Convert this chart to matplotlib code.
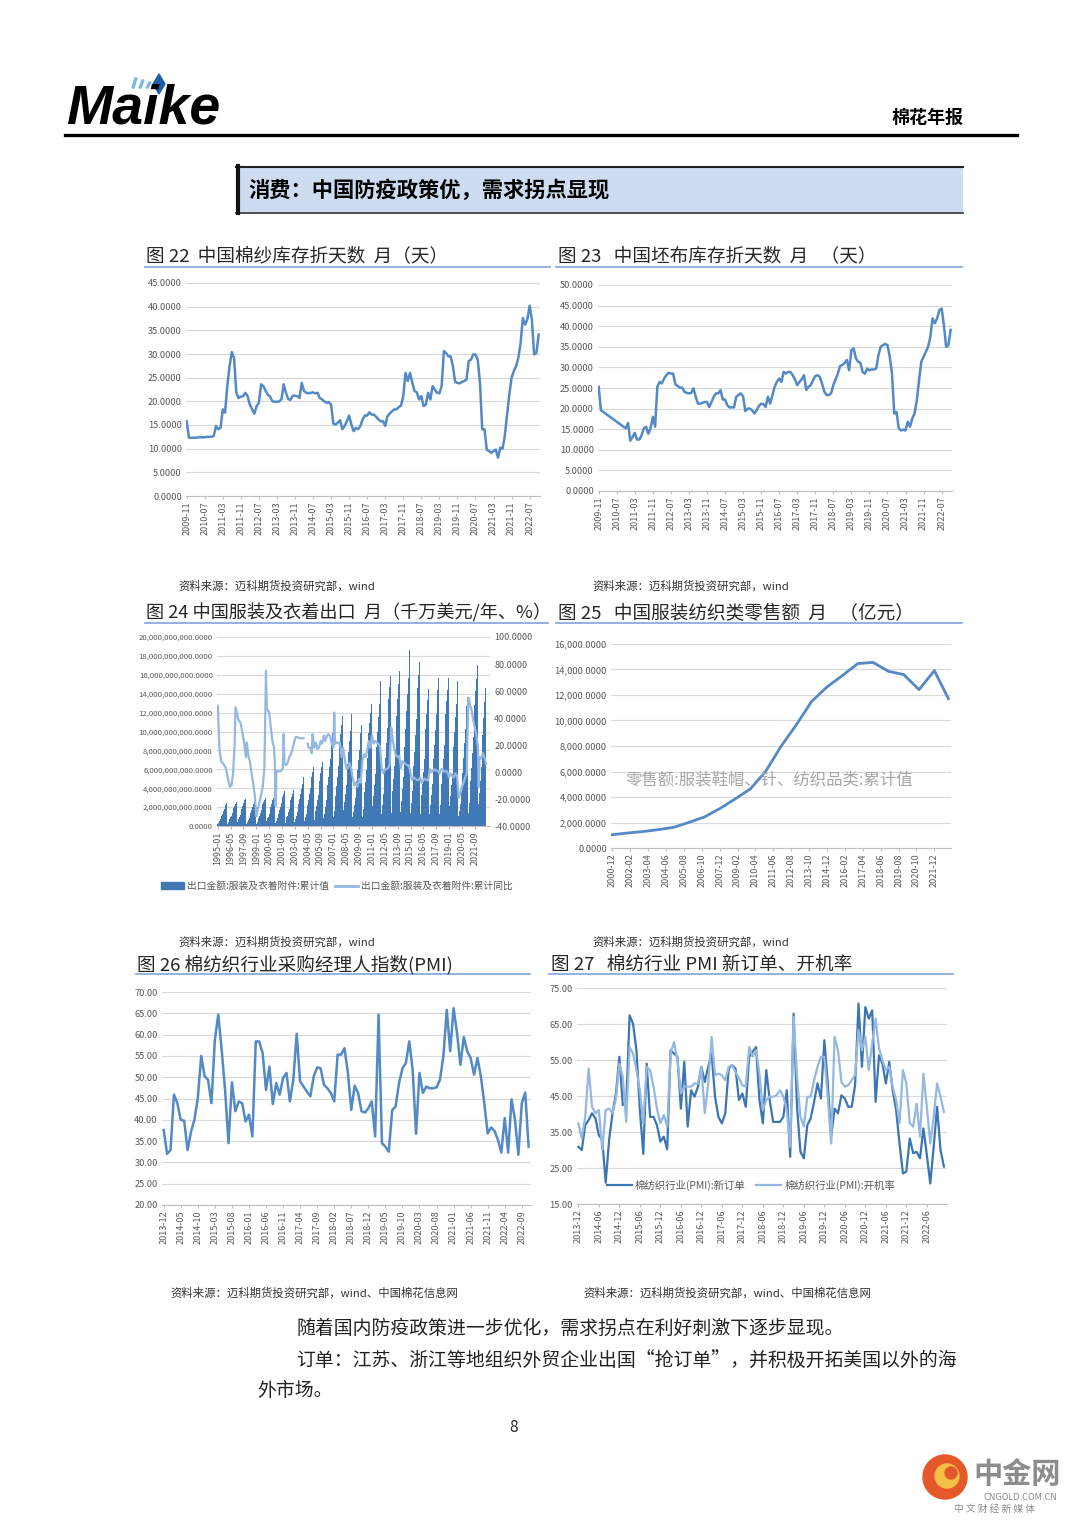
import numpy as np
import matplotlib
matplotlib.use('Agg')
import matplotlib.pyplot as plt
from matplotlib.patches import Rectangle, Circle, Polygon, Patch
from matplotlib.lines import Line2D
from matplotlib.ticker import FuncFormatter

plt.rcParams['font.family'] = ['Noto Sans CJK SC', 'DejaVu Sans']

W, H = 1080, 1527

# ---------------- data ----------------
# fig 22: cotton yarn inventory days, monthly from 2009-11
yarn_days = [15.8, 12.3, 12.3, 12.3, 12.3, 12.4, 12.4, 12.4, 12.4, 12.5, 12.5, 12.5,
             12.7, 14.8, 14.1, 14.4, 18.3, 17.6, 23.2, 27.4, 30.4, 29.2, 21.8, 20.7,
             21.0, 21.1, 21.8, 21.1, 19.3, 18.3, 17.4, 19.0, 19.7, 23.6, 23.2, 22.2,
             21.4, 21.0, 20.0, 19.9, 19.9, 20.0, 20.4, 23.6, 21.8, 20.5, 20.3, 21.2,
             21.2, 21.1, 20.7, 23.9, 22.2, 21.8, 21.7, 21.8, 21.9, 21.7, 21.8, 20.7,
             20.4, 20.0, 19.7, 19.8, 19.3, 15.3, 15.1, 15.5, 16.0, 14.1, 14.8, 15.8,
             17.0, 15.1, 13.7, 14.4, 14.1, 14.8, 16.2, 17.0, 17.0, 17.7, 17.2, 17.2,
             16.7, 16.2, 15.8, 15.8, 14.8, 16.9, 17.4, 17.9, 18.3, 18.3, 18.8, 19.1,
             21.1, 26.0, 24.3, 26.0, 23.9, 22.2, 21.9, 20.4, 21.1, 19.0, 19.3, 21.8,
             20.4, 23.2, 22.5, 21.8, 21.7, 23.2, 30.6, 30.2, 29.5, 29.5, 27.4, 24.1,
             23.9, 23.8, 24.1, 24.3, 24.6, 28.5, 28.8, 29.9, 29.9, 28.8, 23.9, 14.1,
             14.1, 9.8, 9.5, 9.1, 9.5, 9.8, 8.1, 10.2, 10.0, 12.7, 17.2, 21.4,
             25.0, 26.4, 27.4, 29.2, 32.3, 37.6, 36.2, 37.3, 40.2, 37.3, 29.9, 30.2,
             34.1]
# fig 23: grey cloth inventory days, monthly from 2009-11
cloth_days = [25.3, 19.6, 19.2, 18.8, 18.4, 18.0, 17.6, 17.2, 16.8, 16.4, 16.0, 15.6,
              15.2, 16.5, 12.2, 13.1, 14.1, 12.5, 12.5, 13.5, 15.2, 15.6, 13.9, 15.2,
              18.0, 15.6, 25.3, 26.5, 26.1, 27.3, 28.1, 28.7, 28.5, 28.5, 25.9, 25.5,
              25.1, 25.1, 24.1, 23.8, 23.7, 23.8, 24.9, 22.9, 21.2, 21.2, 21.4, 21.6,
              21.6, 20.4, 21.6, 22.9, 23.7, 23.7, 24.5, 22.2, 22.2, 20.8, 20.3, 20.3,
              20.3, 22.9, 23.3, 23.7, 23.0, 19.4, 20.0, 20.0, 19.6, 18.8, 19.6, 20.6,
              21.2, 21.1, 20.4, 22.9, 21.2, 23.3, 25.3, 26.5, 27.3, 26.5, 28.9, 28.5,
              28.9, 28.9, 28.1, 27.1, 25.7, 26.5, 27.1, 28.1, 24.5, 25.3, 25.7, 26.9,
              27.9, 28.1, 27.7, 26.1, 24.1, 23.3, 23.3, 23.7, 25.7, 27.1, 28.5, 30.3,
              30.6, 31.1, 31.8, 29.3, 34.2, 34.6, 32.2, 31.4, 31.1, 28.9, 28.5, 29.7,
              29.3, 29.5, 29.5, 29.7, 33.0, 35.0, 35.4, 35.7, 35.4, 32.6, 28.5, 18.8,
              19.2, 15.2, 14.7, 14.9, 14.7, 16.8, 15.6, 17.6, 18.8, 22.0, 26.9, 31.4,
              32.6, 33.8, 35.0, 37.4, 41.9, 40.7, 41.9, 43.9, 44.3, 40.3, 35.0, 35.4,
              39.1]
days_labels = ['2009-11', '2010-07', '2011-03', '2011-11', '2012-07', '2013-03', '2013-11',
               '2014-07', '2015-03', '2015-11', '2016-07', '2017-03', '2017-11', '2018-07',
               '2019-03', '2019-11', '2020-07', '2021-03', '2021-11', '2022-07']

# fig 24: garment exports, cumulative YTD (x 1e9), monthly from 1995-01
export_cum = [
    [0.2, 0.3, 0.5, 0.7, 0.9, 1.1, 1.3, 1.6, 1.8, 2.0, 2.2, 2.4],
    [0.2, 0.4, 0.5, 0.7, 0.9, 1.1, 1.4, 1.6, 1.9, 2.1, 2.3, 2.5],
    [0.3, 0.4, 0.7, 0.9, 1.2, 1.4, 1.8, 2.1, 2.4, 2.7, 2.9, 3.2],
    [0.2, 0.4, 0.6, 0.8, 1.1, 1.4, 1.7, 2.0, 2.3, 2.5, 2.8, 3.0],
    [0.2, 0.4, 0.6, 0.8, 1.1, 1.4, 1.7, 2.0, 2.3, 2.5, 2.8, 3.0],
    [0.3, 0.5, 0.8, 1.0, 1.3, 1.6, 2.0, 2.3, 2.7, 3.0, 3.3, 3.6],
    [0.3, 0.5, 0.8, 1.0, 1.3, 1.7, 2.0, 2.4, 2.8, 3.1, 3.4, 3.7],
    [0.3, 0.6, 0.9, 1.1, 1.5, 1.8, 2.3, 2.7, 3.1, 3.4, 3.8, 4.1],
    [0.4, 0.7, 1.1, 1.5, 1.9, 2.3, 2.9, 3.4, 3.9, 4.4, 4.8, 5.2],
    [0.5, 0.9, 1.3, 1.7, 2.2, 2.8, 3.4, 4.0, 4.7, 5.2, 5.7, 6.2],
    [0.6, 1.0, 1.6, 2.1, 2.7, 3.3, 4.1, 4.8, 5.6, 6.2, 6.8, 7.5],
    [0.8, 1.3, 2.0, 2.7, 3.4, 4.3, 5.2, 6.2, 7.1, 8.0, 8.9, 9.8],
    [0.9, 1.6, 2.4, 3.2, 4.2, 5.2, 6.4, 7.5, 8.7, 9.7, 10.7, 11.6],
    [1.0, 1.7, 2.5, 3.4, 4.3, 5.4, 6.6, 7.8, 9.0, 10.1, 11.0, 11.9],
    [0.9, 1.5, 2.2, 3.0, 3.9, 4.8, 5.9, 7.0, 8.0, 9.0, 9.8, 10.7],
    [1.0, 1.8, 2.7, 3.6, 4.7, 5.9, 7.2, 8.5, 9.8, 10.9, 12.0, 12.9],
    [1.2, 2.1, 3.2, 4.3, 5.5, 6.9, 8.4, 9.9, 11.5, 12.9, 14.1, 15.3],
    [1.3, 2.2, 3.4, 4.5, 5.8, 7.2, 8.8, 10.4, 12.0, 13.4, 14.7, 15.9],
    [1.4, 2.5, 3.7, 5.0, 6.4, 8.0, 9.8, 11.6, 13.4, 15.0, 16.4, 17.7],
    [1.5, 2.6, 3.9, 5.2, 6.7, 8.4, 10.3, 12.2, 14.0, 15.7, 17.2, 18.6],
    [1.4, 2.4, 3.7, 4.9, 6.3, 7.8, 9.6, 11.3, 13.1, 14.6, 16.0, 17.4],
    [1.3, 2.2, 3.3, 4.4, 5.7, 7.1, 8.7, 10.3, 11.9, 13.3, 14.5, 15.8],
    [1.3, 2.2, 3.3, 4.4, 5.7, 7.1, 8.6, 10.2, 11.8, 13.2, 14.4, 15.7],
    [1.3, 2.2, 3.3, 4.4, 5.7, 7.1, 8.6, 10.2, 11.8, 13.2, 14.4, 15.7],
    [1.2, 2.1, 3.2, 4.3, 5.5, 6.9, 8.4, 9.9, 11.5, 12.9, 14.1, 15.3],
    [1.1, 1.6, 2.3, 3.1, 4.2, 5.6, 7.2, 8.8, 10.3, 11.6, 12.7, 13.7],
    [1.4, 2.4, 3.6, 4.8, 6.1, 7.7, 9.4, 11.1, 12.8, 14.3, 15.6, 17.0],
    [1.4, 2.3, 3.5, 4.8, 6.2, 7.8, 9.6, 11.4, 13.1, 14.6, 16.0],
]
# fig 24: cumulative y/y growth (%), month offset from 1995-01
export_yoy_m = [0, 2, 4, 7, 10, 13, 15, 17, 19, 21, 22, 24, 26, 28, 31, 33, 35, 36, 38, 40,
                42, 44, 46, 48, 50, 52, 54, 56, 58, 60, 61, 62, 64, 66, 68, 70, 71, 72, 73,
                75, 77, 79, 81, 82, 83, 85, 87, 89, 91, 93, 95, 97, 99, 101, 103, 105, 107,
                109, 112, 113, 115, 117, 118, 120, 122, 124, 126, 128, 130, 132, 134, 136,
                138, 140, 142, 144, 145, 146, 148, 150, 152, 154, 156, 158, 160, 162, 164,
                166, 168, 170, 172, 174, 176, 178, 180, 182, 184, 186, 188, 190, 192, 194,
                196, 198, 200, 202, 204, 206, 208, 210, 212, 214, 216, 218, 220, 222, 224,
                226, 228, 230, 232, 234, 236, 238, 240, 242, 244, 246, 248, 250, 252, 254,
                256, 258, 260, 262, 264, 266, 268, 270, 272, 274, 276, 278, 280, 282, 284,
                286, 288, 290, 292, 294, 296, 298, 300, 302, 304, 306, 308, 310, 312, 313,
                314, 316, 318, 320, 322, 324, 325, 326, 328, 330, 332, 334]
export_yoy = [49, 18, 8, 6, 3, -6, -11, -10, -1, 21, 48, 43, 38, 37, 28, 21, 11, 22, 12, 8,
              -1, -8, -17, -33, -27, -22, -17, -11, 3, 75, 48, 46, 44, 33, 23, 18, 6, -25, 1,
              0.5, 0.5, 1, 3, 28, 6, 5, 7, 11, 13, 17, 22, 26, 26, 25, 25, 25, 25,
              np.nan, 21, 18, 18, 14, 28, 18, 22, 17, 18, 23, 21, 27, 23, 27,
              28, 26, 21, 18, 44, 21, 22, 21, 22, 11, 18, 10, 3, 3, 7,
              3, -4, -10, -8, -11, -5, -8, 8, 13, 11, 16, 23, 18, 27, 21,
              23, 22, 21, 19, 3, -1, 2, 2, 3, 5, 33, 23, 17, 12, 11,
              12, 3, 8, 7, 6, 5, 5, -1, -6, -4, -5, -6, -6, -4, -8,
              -6, -5, -6, -6, 2, 0, 1, 2, 1, 1, -1, 2, 2, 0, 1,
              0, -4, -1, -3, -4, -1, -3, -19, -16, -11, -8, -4, -1, 55, 53,
              50, 46, 39, 33, 28, 18, -11, 11, 10, 14, 11, 6]
export_labels = ['1995-01', '1996-05', '1997-09', '1999-01', '2000-05', '2001-09', '2003-01',
                 '2004-05', '2005-09', '2007-01', '2008-05', '2009-09', '2011-01', '2012-05',
                 '2013-09', '2015-01', '2016-05', '2017-09', '2019-01', '2020-05', '2021-09']

# fig 25: apparel & textile retail sales, cumulative (100m yuan), month offset from 2000-12
retail_m = [0, 12, 24, 36, 48, 60, 72, 84, 96, 108, 120, 132, 144, 156, 168, 180, 192,
            204, 216, 228, 240, 252, 263]
retail = [1046, 1176, 1290, 1440, 1620, 2010, 2430, 3085, 3840, 4630, 6010, 7970, 9670,
          11500, 12630, 13520, 14460, 14560, 13860, 13600, 12420, 13910, 11710]
retail_labels = ['2000-12', '2002-02', '2003-04', '2004-06', '2005-08', '2006-10', '2007-12',
                 '2009-02', '2010-04', '2011-06', '2012-08', '2013-10', '2014-12', '2016-02',
                 '2017-04', '2018-06', '2019-08', '2020-10', '2021-12']

# fig 26: cotton textile PMI, monthly from 2013-12
pmi = [37.6, 32.0, 32.9, 45.9, 43.9, 40.0, 39.8, 32.9, 37.2, 40.0, 45.1, 55.0,
       50.2, 49.4, 43.9, 58.8, 64.7, 56.4, 47.0, 34.5, 48.8, 42.0, 44.3, 43.9,
       39.6, 41.2, 36.1, 58.4, 58.4, 55.7, 47.0, 52.5, 43.7, 48.6, 45.9, 49.8,
       51.0, 44.3, 49.4, 60.2, 49.0, 47.8, 46.6, 45.5, 50.2, 52.3, 52.1, 48.2,
       47.4, 46.3, 44.3, 55.3, 55.3, 56.8, 51.1, 42.3, 48.0, 46.3, 42.0, 41.7,
       42.7, 44.3, 36.1, 64.7, 34.5, 33.7, 32.5, 42.3, 43.1, 48.6, 52.1, 53.3,
       58.4, 51.7, 36.7, 51.0, 46.3, 47.8, 47.4, 47.4, 47.6, 49.4, 54.9, 65.8,
       56.1, 66.2, 60.4, 52.9, 59.4, 56.1, 54.5, 50.6, 54.5, 50.2, 43.9, 36.8,
       38.2, 37.4, 35.3, 32.3, 40.4, 32.3, 44.8, 40.0, 31.8, 43.9, 46.4, 33.7]
pmi_labels = ['2013-12', '2014-05', '2014-10', '2015-03', '2015-08', '2016-01', '2016-06',
              '2016-11', '2017-04', '2017-09', '2018-02', '2018-07', '2018-12', '2019-05',
              '2019-10', '2020-03', '2020-08', '2021-01', '2021-06', '2021-11', '2022-04',
              '2022-09']

# fig 27: new orders / operating rate, monthly from 2013-12
new_orders = [30.9, 30.0, 36.9, 38.3, 40.2, 38.8, 34.1, 32.8, 20.9, 32.8, 40.2, 45.7,
              55.9, 42.5, 42.9, 67.4, 65.1, 57.7, 41.1, 28.9, 54.0, 39.2, 39.2, 36.9,
              32.3, 33.7, 30.2, 57.7, 56.8, 55.9, 41.5, 54.5, 36.5, 46.6, 44.8, 47.6,
              53.1, 48.9, 53.1, 56.8, 44.8, 39.2, 37.4, 40.2, 52.6, 53.6, 52.6, 43.9,
              45.7, 42.0, 55.9, 57.3, 58.6, 43.9, 37.4, 52.2, 43.9, 37.8, 37.8, 37.8,
              39.2, 46.6, 28.1, 67.9, 42.0, 29.5, 27.7, 36.9, 38.8, 43.4, 48.5, 44.3,
              60.5, 48.5, 33.7, 41.5, 40.2, 45.2, 44.3, 42.0, 42.0, 48.0, 70.7, 53.1,
              69.7, 66.5, 68.8, 43.4, 56.3, 54.0, 48.5, 54.5, 46.6, 41.1, 31.8, 23.5,
              24.0, 33.2, 29.1, 29.5, 27.7, 36.0, 28.6, 20.7, 30.9, 42.0, 30.0, 25.4]
run_rate = [37.4, 33.2, 39.2, 52.6, 42.0, 40.2, 41.1, 30.0, 41.1, 41.5, 40.2, 44.3,
            54.0, 50.3, 37.8, 58.6, 56.8, 52.2, 46.6, 37.4, 53.1, 52.2, 47.6, 41.5,
            37.4, 39.7, 36.5, 56.8, 60.0, 54.9, 45.7, 47.6, 47.6, 47.6, 48.5, 48.5,
            53.1, 40.2, 48.5, 61.4, 50.8, 51.2, 50.8, 49.4, 53.1, 53.6, 51.7, 49.9,
            48.0, 47.6, 58.6, 55.9, 57.7, 51.2, 41.1, 43.9, 44.8, 44.8, 45.2, 46.6,
            44.8, 41.1, 30.9, 67.0, 50.3, 39.2, 36.5, 44.8, 44.8, 49.4, 53.1, 55.9,
            55.9, 44.8, 31.8, 61.4, 57.7, 48.9, 47.6, 48.0, 49.4, 50.8, 63.3, 57.7,
            61.4, 52.2, 59.6, 66.5, 58.2, 54.9, 52.2, 53.1, 47.6, 43.9, 37.4, 52.2,
            48.5, 37.4, 36.5, 42.9, 33.7, 51.2, 42.0, 31.8, 39.2, 48.5, 44.8, 40.6]
pmi2_labels = ['2013-12', '2014-06', '2014-12', '2015-06', '2015-12', '2016-06', '2016-12',
               '2017-06', '2017-12', '2018-06', '2018-12', '2019-06', '2019-12', '2020-06',
               '2020-12', '2021-06', '2021-12', '2022-06']

LINE = '#5389c4'
DARK = '#3b76b2'
LIGHT = '#94b8df'
GRID = '#d9d9d9'
TICK = '#595959'


def box(x0, y0, x1, y1):
    return [x0 / W, 1 - y1 / H, (x1 - x0) / W, (y1 - y0) / H]


def style(ax):
    for s in ['top', 'right', 'left']:
        ax.spines[s].set_visible(False)
    ax.spines['bottom'].set_color('#bfbfbf')
    ax.grid(axis='y', color=GRID, lw=0.8)
    ax.set_axisbelow(True)
    ax.tick_params(axis='y', length=0, labelsize=6.7, labelcolor=TICK, pad=3)
    ax.tick_params(axis='x', length=2, color='#bfbfbf', labelsize=6.5, labelcolor=TICK,
                   pad=2, labelrotation=90)


fig = plt.figure(figsize=(W / 100, H / 100), dpi=100)
bg = fig.add_axes([0, 0, 1, 1])
bg.set_xlim(0, W)
bg.set_ylim(H, 0)
bg.axis('off')

# header
bg.text(66, 123, 'Maike', fontsize=40, fontweight='bold', fontstyle='italic',
        family='Liberation Sans', va='baseline', ha='left', color='black')
for i, xx in enumerate([132, 139, 146]):
    bg.add_patch(Polygon([[xx, 88], [xx + 3, 78 + i * 2], [xx + 5, 78 + i * 2], [xx + 2, 88]],
                         color='#7fb6de'))
bg.add_patch(Polygon([[153, 84], [159, 74], [165, 84], [159, 94]], color='#1f5fa8'))
bg.text(963, 117, '棉花年报', fontsize=13, fontweight='bold', ha='right', va='center')
bg.plot([65, 1017], [134.5, 134.5], color='black', lw=2.4)

bg.add_patch(Rectangle((236, 166), 727, 47, facecolor='#cddcf0', edgecolor='none'))
bg.plot([236, 963], [167, 167], color='#222222', lw=1.5)
bg.plot([236, 963], [212.5, 212.5], color='#333333', lw=1.2)
bg.plot([238, 238], [166, 213], color='#111111', lw=3)
bg.text(248, 190, '消费：中国防疫政策优，需求拐点显现', fontsize=15.3, fontweight='bold',
        va='center', ha='left', color='black')

# chart titles and underlines
titles = [(146, 256, '图 22  中国棉纱库存折天数  月（天）', 145, 550, 267),
          (558, 256, '图 23   中国坯布库存折天数  月   （天）', 556, 962, 267),
          (146, 613, '图 24 中国服装及衣着出口  月（千万美元/年、%）', 145, 548, 623),
          (558, 613, '图 25   中国服装纺织类零售额  月   （亿元）', 556, 962, 623),
          (137, 965, '图 26 棉纺织行业采购经理人指数(PMI)', 136, 530, 974),
          (551, 965, '图 27   棉纺行业 PMI 新订单、开机率', 549, 953, 974)]
for tx, ty, t, lx0, lx1, ly in titles:
    fs = 13.1 if '24' in t[:4] else 13.4
    bg.text(tx, ty, t, fontsize=fs, va='center', ha='left', color='#262626')
    bg.plot([lx0, lx1], [ly, ly], color='#8eaadb', lw=1.3)

src1 = '资料来源：迈科期货投资研究部，wind'
src2 = '资料来源：迈科期货投资研究部，wind、中国棉花信息网'
for sx, sy, s in [(178, 586, src1), (592, 586, src1), (178, 942, src1), (592, 942, src1),
                  (170, 1293, src2), (583, 1293, src2)]:
    bg.text(sx, sy, s, fontsize=8.2, va='center', ha='left', color='#333333')

# body text
bg.text(296, 1328, '随着国内防疫政策进一步优化，需求拐点在利好刺激下逐步显现。', fontsize=13.6,
        va='center', ha='left', color='#222222')
bg.text(296, 1360, '订单：江苏、浙江等地组织外贸企业出国“抢订单”，并积极开拓美国以外的海',
        fontsize=13.6, va='center', ha='left', color='#222222')
bg.text(257, 1391, '外市场。', fontsize=13.6, va='center', ha='left', color='#222222')
bg.text(514, 1428, '8', fontsize=11, va='center', ha='center', color='#222222')

# watermark logo
bg.add_patch(Circle((945, 1477), 22, color='#e4582a'))
bg.add_patch(Circle((947, 1476), 12, color='#f6c046'))
bg.add_patch(Circle((951, 1473), 6, color='#e4582a'))
bg.text(1017, 1474, '中金网', fontsize=21, fontweight='bold', color='#8c8c8c',
        ha='center', va='center')
bg.text(1020, 1497, 'CNGOLD.COM.CN', fontsize=6, color='#8c8c8c', ha='center', va='center',
        family='DejaVu Sans')
bg.text(995, 1509, '中 文 财 经 新 媒 体', fontsize=7, color='#8c8c8c', ha='center', va='center')

fmt4 = FuncFormatter(lambda v, p: f'{v:.4f}')
fmt4c = FuncFormatter(lambda v, p: f'{v:,.4f}')
fmt2 = FuncFormatter(lambda v, p: f'{v:.2f}')

# ---- fig 22 ----
ax = fig.add_axes(box(186, 283, 540, 496))
style(ax)
ax.plot(np.arange(len(yarn_days)), yarn_days, color=LINE, lw=1.8)
ax.set_ylim(0, 45)
ax.set_yticks(np.arange(0, 46, 5))
ax.yaxis.set_major_formatter(fmt4)
ax.set_xlim(-0.3, 156.6)
ax.set_xticks(np.arange(0, 8 * len(days_labels), 8))
ax.set_xticklabels(days_labels)

# ---- fig 23 ----
ax = fig.add_axes(box(598, 285, 952, 491))
style(ax)
ax.plot(np.arange(len(cloth_days)), cloth_days, color=LINE, lw=1.8)
ax.set_ylim(0, 50)
ax.set_yticks(np.arange(0, 51, 5))
ax.yaxis.set_major_formatter(fmt4)
ax.set_xlim(-0.3, 156.6)
ax.set_xticks(np.arange(0, 8 * len(days_labels), 8))
ax.set_xticklabels(days_labels)

# ---- fig 24 ----
ax = fig.add_axes(box(217, 637, 490, 826))
style(ax)
bars = np.array([v for year in export_cum for v in year]) * 1e9
ax.bar(np.arange(len(bars)), bars, width=1.0, color='#4179b6', edgecolor='none')
ax.set_ylim(0, 2e10)
ax.set_yticks(np.arange(0, 2.01e10, 2e9))
ax.yaxis.set_major_formatter(fmt4c)
ax.tick_params(axis='y', labelsize=5.6)
ax.set_xlim(-1, 339)
ax.set_xticks(np.arange(0, 16 * len(export_labels), 16))
ax.set_xticklabels(export_labels)
ax2 = ax.twinx()
for s in ['top', 'right', 'left', 'bottom']:
    ax2.spines[s].set_visible(False)
ax2.plot(export_yoy_m, export_yoy, color=LIGHT, lw=1.6)
ax2.set_ylim(-40, 100)
ax2.set_yticks(np.arange(-40, 101, 20))
ax2.yaxis.set_major_formatter(fmt4)
ax2.tick_params(axis='y', length=0, labelsize=6.5, labelcolor=TICK, pad=3)
fig.legend(handles=[Patch(color='#4179b6'), Line2D([], [], color=LIGHT, lw=2)],
           labels=['出口金额:服装及衣着附件:累计值', '出口金额:服装及衣着附件:累计同比'],
           loc='center', bbox_to_anchor=(337 / W, 1 - 886 / H), ncol=2, frameon=False,
           fontsize=7, handlelength=2.4, handleheight=0.6, columnspacing=0.6,
           handletextpad=0.3, labelcolor=TICK)

# ---- fig 25 ----
ax = fig.add_axes(box(611, 644, 951, 848))
style(ax)
ax.plot(retail_m, retail, color=LINE, lw=2.0)
ax.set_ylim(0, 16000)
ax.set_yticks(np.arange(0, 16001, 2000))
ax.yaxis.set_major_formatter(fmt4c)
ax.set_xlim(-1, 265)
ax.set_xticks(np.arange(0, 14 * len(retail_labels), 14))
ax.set_xticklabels(retail_labels)
ax.text(0.041, 0.333, '零售额:服装鞋帽、针、纺织品类:累计值', transform=ax.transAxes,
        fontsize=11.8, color='#a6a6a6', va='center', ha='left')

# ---- fig 26 ----
ax = fig.add_axes(box(162, 992, 531, 1205))
style(ax)
ax.plot(np.arange(len(pmi)), pmi, color=LINE, lw=1.8)
ax.set_ylim(20, 70)
ax.set_yticks(np.arange(20, 71, 5))
ax.yaxis.set_major_formatter(fmt2)
ax.set_xlim(-0.5, 107.7)
ax.set_xticks(np.arange(0, 5 * len(pmi_labels), 5))
ax.set_xticklabels(pmi_labels)

# ---- fig 27 ----
ax = fig.add_axes(box(577, 988, 947, 1204))
style(ax)
ax.plot(np.arange(len(new_orders)), new_orders, color=DARK, lw=1.6,
        label='棉纺织行业(PMI):新订单')
ax.plot(np.arange(len(run_rate)), run_rate, color=LIGHT, lw=1.6,
        label='棉纺织行业(PMI):开机率')
ax.set_ylim(15, 75)
ax.set_yticks(np.arange(15, 76, 10))
ax.yaxis.set_major_formatter(fmt2)
ax.set_xlim(-0.4, 107.9)
ax.set_xticks(np.arange(0, 6 * len(pmi2_labels), 6))
ax.set_xticklabels(pmi2_labels)
ax.legend(loc='center', bbox_to_anchor=(0.47, 0.088), ncol=2, frameon=False, fontsize=7.5,
          handlelength=2.4, columnspacing=1.0, handletextpad=0.3, labelcolor=TICK)

fig.savefig('out.png', dpi=100, facecolor='white')
